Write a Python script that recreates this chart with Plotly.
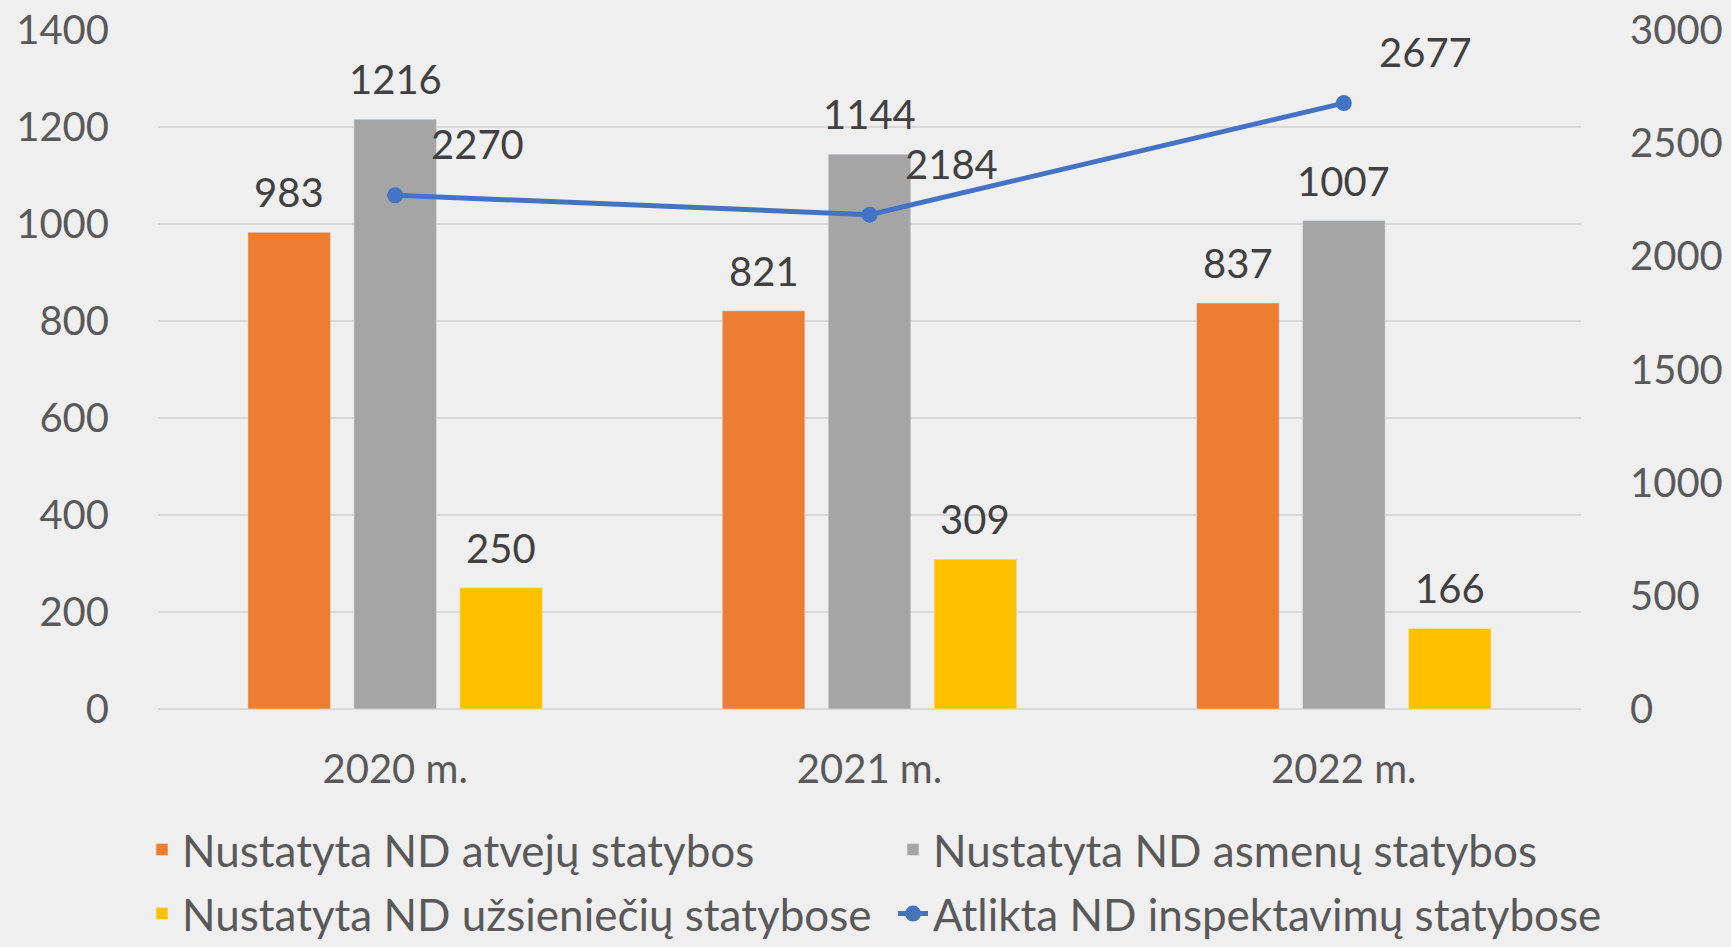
import plotly.graph_objects as go

categories = ["2020 m.", "2021 m.", "2022 m."]
atveju = [983, 821, 837]
asmenu = [1216, 1144, 1007]
uzsienieciu = [250, 309, 166]
inspektavimu = [2270, 2184, 2677]

names = [
    "Nustatyta ND atvejų statybos",
    "Nustatyta ND asmenų statybos",
    "Nustatyta ND užsieniečių statybose",
    "Atlikta ND inspektavimų statybose",
]
colors = ["#ED7D31", "#A5A5A5", "#FFC000", "#4472C4"]

FONT = "Lato"
TICK = "#595959"
LABEL = "#404040"
W, H = 1731, 947
ML, MR, MT, MB = 158, 150, 30, 238
BARGAP = 0.33
plot_w = W - ML - MR
plot_h = H - MT - MB

# legend slots (pixel positions of each entry: left edge, row centre)
leg_ids = ["legend", "legend2", "legend3", "legend4"]
leg_pos = [(142, 850), (893, 850), (142, 914), (893, 914)]

fig = go.Figure()
bar_series = [atveju, asmenu, uzsienieciu]
for vals, name, col, lg in zip(bar_series, names[:3], colors[:3], leg_ids[:3]):
    fig.add_trace(go.Bar(
        x=categories, y=vals, name=name, marker_color=col, legend=lg,
    ))

fig.add_trace(go.Scatter(
    x=categories, y=inspektavimu, name=names[3], yaxis="y2", legend=leg_ids[3],
    mode="lines+markers",
    line=dict(color=colors[3], width=5),
    marker=dict(color=colors[3], size=16),
    cliponaxis=False,
))

# data labels
slot = plot_w / len(categories) * (1 - BARGAP) / len(bar_series)
annotations = []
for i, vals in enumerate(bar_series):
    for c, v in zip(categories, vals):
        annotations.append(dict(
            x=c, y=v, xref="x", yref="y", text=str(v), showarrow=False,
            xshift=(i - 1) * slot, yshift=40, yanchor="middle",
            font=dict(family=FONT, size=40, color=LABEL),
        ))
for c, v in zip(categories, inspektavimu):
    annotations.append(dict(
        x=c, y=v, xref="x", yref="y2", text=str(v), showarrow=False,
        xshift=82, yshift=51, yanchor="middle",
        font=dict(family=FONT, size=40, color=LABEL),
    ))

legends = {}
for lid, (px, py) in zip(leg_ids, leg_pos):
    legends[lid] = dict(
        orientation="h", xref="paper", yref="paper",
        x=(px - ML) / plot_w, y=(H - MB - py) / plot_h,
        xanchor="left", yanchor="middle",
        font=dict(family=FONT, size=44, color=TICK),
        bgcolor="rgba(0,0,0,0)",
    )

fig.update_layout(
    width=W, height=H,
    margin=dict(l=ML, r=MR, t=MT, b=MB, autoexpand=False),
    paper_bgcolor="#EFEFEF", plot_bgcolor="#EFEFEF",
    font=dict(family=FONT, size=40, color=TICK),
    barmode="group", bargap=BARGAP, bargroupgap=0.22,
    showlegend=True,
    annotations=annotations,
    xaxis=dict(
        showgrid=False, showline=False, zeroline=False, automargin=False,
        ticks="outside", ticklen=25, tickcolor="rgba(0,0,0,0)",
        tickfont=dict(family=FONT, size=40, color=TICK),
    ),
    yaxis=dict(
        range=[0, 1400], dtick=200, showgrid=True, gridcolor="#D9D9D9", gridwidth=2,
        zeroline=True, zerolinecolor="#D9D9D9", zerolinewidth=2, showline=False,
        automargin=False,
        ticks="outside", ticklen=40, tickcolor="rgba(0,0,0,0)",
        tickfont=dict(family=FONT, size=40, color=TICK),
    ),
    yaxis2=dict(
        range=[0, 3000], dtick=500, overlaying="y", side="right",
        showgrid=False, zeroline=False, showline=False, automargin=False,
        ticks="outside", ticklen=40, tickcolor="rgba(0,0,0,0)",
        tickfont=dict(family=FONT, size=40, color=TICK),
    ),
    **legends,
)

fig.write_html(
    "out.html",
    config={"displayModeBar": False},
    post_script="document.body.style.margin='0';document.body.style.padding='0';",
)
